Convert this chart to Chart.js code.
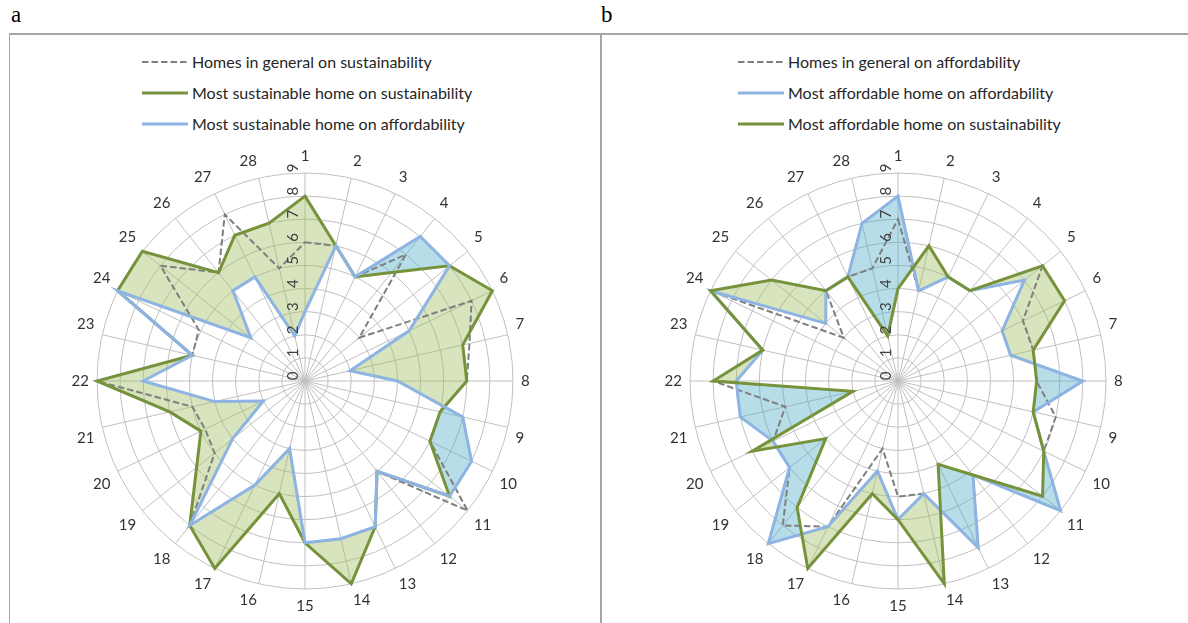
<!DOCTYPE html>
<html>
<head>
<meta charset="utf-8">
<script src="https://cdn.jsdelivr.net/npm/chart.js@4/dist/chart.umd.min.js"></script>
<style>
html,body{margin:0;padding:0;background:#fff;}
body{width:1188px;height:623px;position:relative;overflow:hidden;font-family:Lato,'Open Sans',sans-serif;}
.plabel{position:absolute;top:2px;font-family:'Liberation Serif','Times New Roman',serif;font-size:23px;color:#000;line-height:26px;}
.hline{position:absolute;left:9px;top:33px;width:1179px;height:0;border-top:2px solid #a6a6a6;}
.vline{position:absolute;top:33px;height:590px;width:0;border-left:2px solid #a6a6a6;}
.legend{position:absolute;top:46px;}
.legend .item{display:flex;align-items:center;height:31px;}
.legend svg{width:46px;height:6px;margin-right:4px;flex:none;}
.legend span{font-size:16px;color:#262626;white-space:nowrap;}
canvas{position:absolute;}
</style>
</head>
<body>
<div class="plabel" style="left:11px">a</div>
<div class="plabel" style="left:601px">b</div>
<div class="hline"></div>
<div class="vline" style="left:9px;border-left-width:1px"></div>
<div class="vline" style="left:600px"></div>
<div class="legend" id="legA" style="left:142px"></div>
<div class="legend" id="legB" style="left:738px"></div>
<canvas id="chartA" width="590" height="483" style="left:10px;top:140px"></canvas>
<canvas id="chartB" width="585" height="483" style="left:603px;top:140px"></canvas>
<script>
// ---------- data ----------
const categories = ['1','2','3','4','5','6','7','8','9','10','11','12','13','14','15','16','17','18','19','20','21','22','23','24','25','26','27','28'];
const tickValues = [0,1,2,3,4,5,6,7,8,9];

const namesA = ['Homes in general on sustainability','Most sustainable home on sustainability','Most sustainable home on affordability'];
const grayA  = [6,6,5,7,3,8,7.3,7,6,6,9,5,7,7,7,3,5,8,5,4.8,5,9,5,5.1,8,6,8,5];
const greenA = [8,6,5,6,8,9,7,7,6,6,8,5,7,9,7,5,9,8,6,5,6,9,5,9,9,6,7,7];
const blueA  = [3,6,5,8,8,5,2,4,7,8,8,5,7,7,7,3,5,8,4,2,4,7,5,9,3,5,5,2];

const namesB = ['Homes in general on affordability','Most affordable home on affordability','Most affordable home on sustainability'];
const grayB  = [7,4,5,5,8,6,6,6,7,7,9,5.2,8,5,5,3,7,8,6,6,5,8,6,9,3,5,5,5];
const blueB  = [8,4,5,5,7,5,5,8,6,7,9,5.2,8,5,6,4,7,9,6,6,7,7,6,9,4,5,5,7];
const greenB = [4,6,5,5,8,8,6,6,6,7,8,5.2,4,9,6,5,9,7,4,7,2,8,6,9,7,5,5,2];

// ---------- styles ----------
const GRAY = '#7f7f7f', GREEN = '#76933c', BLUE = '#8db4e2';
const GREEN_FILL = 'rgba(155,187,89,0.4)', BLUE_FILL = 'rgba(75,172,198,0.4)';
const FONT = 'Lato';
Chart.defaults.font.family = FONT;

// ---------- HTML legends ----------
function buildLegend(el, items) {
  items.forEach(it => {
    const row = document.createElement('div');
    row.className = 'item';
    const dash = it.dash ? ' stroke-dasharray="6.5 3"' : '';
    row.innerHTML = '<svg viewBox="0 0 46 6"><line x1="0" y1="3" x2="46" y2="3" stroke="' + it.color +
      '" stroke-width="' + it.width + '"' + dash + '/></svg><span></span>';
    row.querySelector('span').textContent = it.text;
    el.appendChild(row);
  });
}
buildLegend(document.getElementById('legA'), [
  {text: namesA[0], color: GRAY, width: 2, dash: true},
  {text: namesA[1], color: GREEN, width: 3},
  {text: namesA[2], color: BLUE, width: 3}
]);
buildLegend(document.getElementById('legB'), [
  {text: namesB[0], color: GRAY, width: 2, dash: true},
  {text: namesB[1], color: BLUE, width: 3},
  {text: namesB[2], color: GREEN, width: 3}
]);

// ---------- plugins ----------
function applyClip(chart, meta) {
  if (!meta) return false;
  const ds = chart.data.datasets[meta.index];
  if (ds.clipOutside === undefined) return false;
  const other = chart.getDatasetMeta(ds.clipOutside);
  const ctx = chart.ctx;
  ctx.save();
  ctx.beginPath();
  ctx.rect(0, 0, chart.width, chart.height);
  other.data.forEach((p, i) => i ? ctx.lineTo(p.x, p.y) : ctx.moveTo(p.x, p.y));
  ctx.closePath();
  ctx.clip('evenodd');
  return true;
}
const clipPlugin = {
  id: 'clipOutside',
  beforeDatasetsDraw(chart) {
    const metas = chart.getSortedVisibleDatasetMetas();
    chart.$clipActive = applyClip(chart, metas[metas.length - 1]);
  },
  beforeDatasetDraw(chart) {
    if (chart.$clipActive) { chart.ctx.restore(); chart.$clipActive = false; }
  },
  afterDatasetDraw(chart, args) {
    const metas = chart.getSortedVisibleDatasetMetas();
    const p = metas.findIndex(m => m.index === args.index);
    chart.$clipActive = applyClip(chart, metas[p - 1]);
  }
};
const rotatedTicks = {
  id: 'rotatedTicks',
  afterDatasetsDraw(chart) {
    const s = chart.scales.r;
    const ctx = chart.ctx;
    ctx.save();
    ctx.font = '15px ' + FONT;
    ctx.fillStyle = '#404040';
    ctx.textAlign = 'center';
    ctx.textBaseline = 'middle';
    s.ticks.forEach(t => {
      const d = s.getDistanceFromCenterForValue(t.value);
      ctx.save();
      ctx.translate(s.xCenter - 12, s.yCenter - d - 5);
      ctx.rotate(-Math.PI / 2);
      ctx.fillText(String(t.value), 0, 0);
      ctx.restore();
    });
    ctx.restore();
  }
};

function lineDs(label, data, color, width, dash, order) {
  return {label, data, borderColor: color, borderWidth: width, borderDash: dash || [],
    backgroundColor: 'transparent', fill: false, pointRadius: 0, pointHoverRadius: 0,
    tension: 0, order, borderJoinStyle: 'miter'};
}
function fillDs(data, color, clipOutside, order) {
  return {label: '', data, borderColor: 'transparent', borderWidth: 0, backgroundColor: color,
    fill: 'origin', pointRadius: 0, pointHoverRadius: 0, tension: 0, order, clipOutside};
}
function makeChart(id, datasets, padLeft) {
  return new Chart(document.getElementById(id), {
    type: 'radar',
    data: {labels: categories, datasets},
    options: {
      responsive: false, animation: false, devicePixelRatio: 1,
      layout: {padding: {top: 7, bottom: 8, left: padLeft, right: 0}},
      plugins: {legend: {display: false}, tooltip: {enabled: false}, filler: {propagate: false}},
      scales: {
        r: {
          min: tickValues[0], max: tickValues[tickValues.length - 1],
          startAngle: 0,
          ticks: {stepSize: 1, display: false},
          grid: {circular: true, color: '#c0c0c0', lineWidth: 1},
          angleLines: {color: '#c0c0c0', lineWidth: 1},
          pointLabels: {font: {size: 15, family: FONT}, color: '#333333', padding: 8}
        }
      }
    },
    plugins: [clipPlugin, rotatedTicks]
  });
}

makeChart('chartA', [
  lineDs(namesA[0], grayA, GRAY, 2, [6.5, 3], 2),
  lineDs(namesA[1], greenA, GREEN, 3, null, 1),
  lineDs(namesA[2], blueA, BLUE, 3, null, 0),
  fillDs(greenA, GREEN_FILL, 2, 3),
  fillDs(blueA, BLUE_FILL, 1, 4)
], 0);

makeChart('chartB', [
  lineDs(namesB[0], grayB, GRAY, 2, [6.5, 3], 2),
  lineDs(namesB[1], blueB, BLUE, 3, null, 1),
  lineDs(namesB[2], greenB, GREEN, 3, null, 0),
  fillDs(blueB, BLUE_FILL, 2, 3),
  fillDs(greenB, GREEN_FILL, 1, 4)
], 6);
</script>
</body>
</html>
